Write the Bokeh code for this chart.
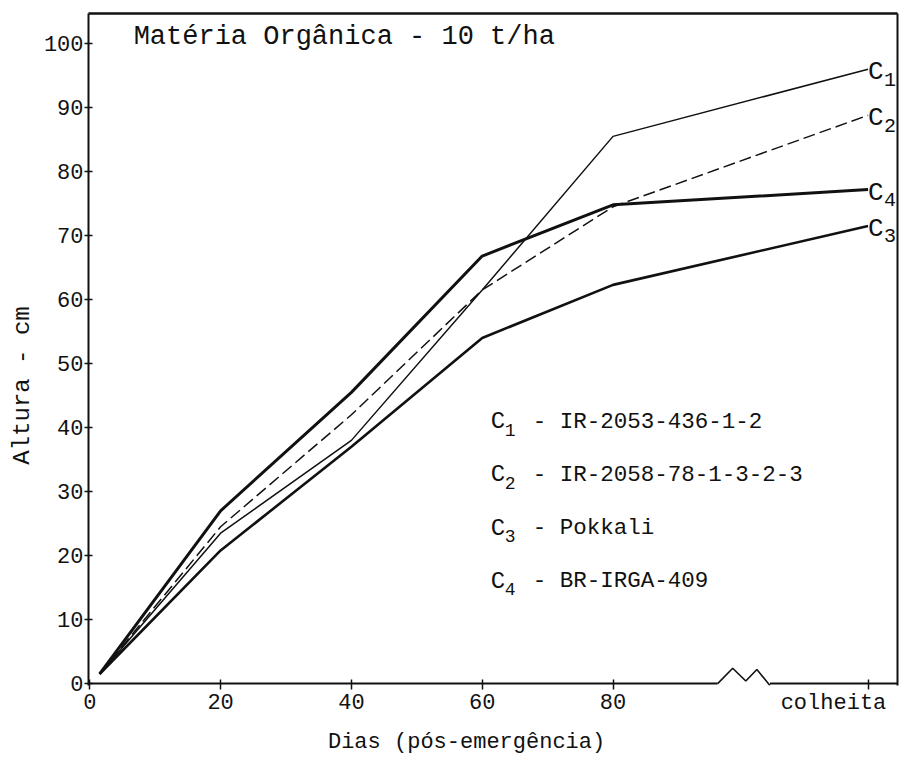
from bokeh.plotting import figure
from bokeh.models import Range1d, FixedTicker, LinearAxis, ColumnDataSource
from bokeh.core.properties import value
from bokeh.embed import file_html
from bokeh.resources import INLINE

# ---------------- data ----------------
days = [1.5, 20, 40, 60, 80, 119]          # last point = harvest ("colheita")
c1 = [1.5, 23.5, 38.0, 61.5, 85.5, 96.0]
c2 = [1.5, 24.5, 42.0, 61.5, 74.5, 88.8]
c3 = [1.5, 20.8, 37.0, 54.0, 62.3, 71.5]
c4 = [1.5, 27.0, 45.5, 66.8, 74.8, 77.2]
series_ids = ["1", "2", "3", "4"]
cultivars = ["IR-2053-436-1-2", "IR-2058-78-1-3-2-3", "Pokkali", "BR-IRGA-409"]
x_ticks = [0, 20, 40, 60, 80]
harvest_day = 119
harvest_label = "colheita"
y_ticks = [0, 10, 20, 30, 40, 50, 60, 70, 80, 90, 100]
title_text = "Matéria Orgânica - 10 t/ha"
x_label = "Dias (pós-emergência)"
y_label = "Altura - cm"

# ---------------- style / layout ----------------
FONT = value("Liberation Mono")
FONT_NAME = "Liberation Mono"
BLACK = "#111111"
NB = "\u00a0"
X0, X1 = -0.2, 123.5
Y0, Y1 = -0.3, 104.7

p = figure(width=899, height=757, output_backend="svg", toolbar_location=None,
           x_range=Range1d(X0, X1), y_range=Range1d(Y0, Y1),
           min_border_left=88, min_border_right=2, min_border_top=13,
           min_border_bottom=69)
p.xgrid.visible = False
p.ygrid.visible = False
p.outline_line_color = None
p.background_fill_color = "white"
p.border_fill_color = "white"

# x axis (its line is drawn manually to show the break)
xa = p.xaxis[0]
xa.ticker = FixedTicker(ticks=x_ticks + [harvest_day])
# harvest label padded so that it sits left of its tick, as in the original
xa.major_label_overrides = {harvest_day: harvest_label + NB}
xa.axis_line_color = None
xa.major_tick_in = 6
xa.major_tick_out = 4
xa.major_tick_line_width = 1.5
xa.major_tick_line_color = BLACK
xa.minor_tick_line_color = None
xa.major_label_text_font = FONT_NAME
xa.major_label_text_font_size = "22px"
xa.major_label_text_color = BLACK
xa.major_label_standoff = 1
xa.axis_label = x_label + NB * 4
xa.axis_label_text_font = FONT_NAME
xa.axis_label_text_font_size = "22px"
xa.axis_label_text_font_style = "normal"
xa.axis_label_text_color = BLACK
xa.axis_label_standoff = 11

ya = p.yaxis[0]
ya.ticker = FixedTicker(ticks=y_ticks)
ya.axis_line_width = 2
ya.axis_line_color = BLACK
ya.major_tick_in = 4
ya.major_tick_out = 4
ya.major_tick_line_width = 1.5
ya.major_tick_line_color = BLACK
ya.minor_tick_line_color = None
ya.major_label_text_font = FONT_NAME
ya.major_label_text_font_size = "22px"
ya.major_label_text_color = BLACK
ya.major_label_standoff = 1
ya.axis_label = y_label + NB * 5
ya.axis_label_text_font = FONT_NAME
ya.axis_label_text_font_size = "24px"
ya.axis_label_text_font_style = "normal"
ya.axis_label_text_color = BLACK
ya.axis_label_standoff = 5

# top and right frame lines
for loc, w in (("above", 2.5), ("right", 2)):
    ax = LinearAxis(ticker=FixedTicker(ticks=[]), axis_line_width=w,
                    axis_line_color=BLACK, major_tick_line_color=None,
                    minor_tick_line_color=None, major_label_text_font_size="0px")
    p.add_layout(ax, loc)

# bottom baseline with axis break (zig-zag)
BREAK_X = [96.0, 98.3, 100.3, 102.0, 104.0]
BREAK_Y = [0.0, 2.4, 0.4, 2.2, -0.3]
p.line([X0, BREAK_X[0]], [0, 0], line_color=BLACK, line_width=2)
p.line(BREAK_X, BREAK_Y, line_color=BLACK, line_width=1.6)
p.line([BREAK_X[-1], X1], [0, 0], line_color=BLACK, line_width=2)

# series lines
p.line(days, c1, line_color=BLACK, line_width=1.5)
p.line(days, c2, line_color=BLACK, line_width=1.5, line_dash="12 5")
p.line(days, c3, line_color=BLACK, line_width=2.6)
p.line(days, c4, line_color=BLACK, line_width=3.0)

# end labels C1..C4
finals = [c1[-1], c2[-1], c3[-1], c4[-1]]
end_src = ColumnDataSource(dict(x=[harvest_day] * 4, y=finals,
                                c=["C"] * 4, s=series_ids))
p.text(x="x", y="y", text="c", source=end_src, text_font=FONT,
       text_font_size=value("26px"), text_color=BLACK, text_align="left",
       text_baseline="middle", x_offset=0, y_offset=3)
p.text(x="x", y="y", text="s", source=end_src, text_font=FONT,
       text_font_size=value("20px"), text_color=BLACK, text_align="left",
       text_baseline="middle", x_offset=16, y_offset=10)

# in-plot legend
LEG_X, LEG_Y0, LEG_DY = 61.3, 40.9, 8.3
leg_src = ColumnDataSource(dict(
    x=[LEG_X] * 4,
    y=[LEG_Y0 - i * LEG_DY for i in range(4)],
    c=["C"] * 4, s=series_ids,
    t=["- " + n for n in cultivars]))
p.text(x="x", y="y", text="c", source=leg_src, text_font=FONT,
       text_font_size=value("24px"), text_color=BLACK, text_align="left",
       text_baseline="middle")
p.text(x="x", y="y", text="s", source=leg_src, text_font=FONT,
       text_font_size=value("18px"), text_color=BLACK, text_align="left",
       text_baseline="middle", x_offset=14, y_offset=8)
p.text(x="x", y="y", text="t", source=leg_src, text_font=FONT,
       text_font_size=value("22.5px"), text_color=BLACK, text_align="left",
       text_baseline="middle", x_offset=42)

# title inside the frame
p.text(x=[6.7], y=[101.0], text=[title_text], text_font=FONT,
       text_font_size=value("27px"), text_color=BLACK, text_align="left",
       text_baseline="middle")

open("out.html", "w").write(file_html(p, INLINE))
